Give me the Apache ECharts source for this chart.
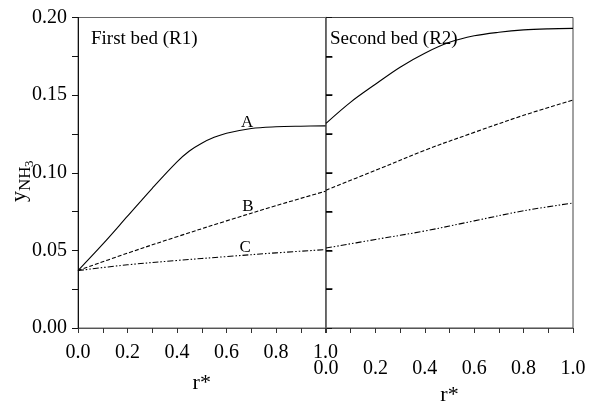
<!DOCTYPE html>
<html>
<head>
<meta charset="utf-8">
<script src="https://cdn.jsdelivr.net/npm/echarts@6/dist/echarts.min.js"></script>
<style>
  html, body { margin: 0; padding: 0; background: #fff; }
  #chart { width: 589px; height: 402px; }
</style>
</head>
<body>
<div id="chart"></div>
<script>
// Dimensionless radius r* and ammonia mole fraction profiles for the two beds
const rBed1A = [0, 0.1, 0.2, 0.3, 0.4, 0.45, 0.5, 0.55, 0.6, 0.7, 0.8, 0.9, 1.0];
const bed1A  = [0.037, 0.054, 0.072, 0.090, 0.107, 0.114, 0.119, 0.1228, 0.1255, 0.1285, 0.1296, 0.1300, 0.1302];
const rCoarse = [0, 0.2, 0.4, 0.6, 0.8, 1.0];
const bed1B  = [0.037, 0.0482, 0.0588, 0.069, 0.0788, 0.0881];
const bed1C  = [0.037, 0.0407, 0.0435, 0.046, 0.0484, 0.0505];

const rBed2A = [0, 0.1, 0.2, 0.3, 0.4, 0.5, 0.6, 0.7, 0.8, 0.9, 1.0];
const bed2A  = [0.1318, 0.1455, 0.157, 0.168, 0.177, 0.184, 0.1882, 0.1905, 0.192, 0.1927, 0.193];
const bed2B  = [0.0888, 0.1015, 0.1145, 0.126, 0.137, 0.1468];
const bed2C  = [0.0515, 0.057, 0.0625, 0.069, 0.0755, 0.0805];

const yTicks = [0, 0.05, 0.10, 0.15, 0.20];
const yTicksFine = [0.025, 0.05, 0.075, 0.10, 0.125, 0.15, 0.175];
const xTicks = [0, 0.2, 0.4, 0.6, 0.8, 1.0];
const curveNames = ['A', 'B', 'C'];
// curve label anchor points in data units (r*, y)
const labelAt = [[0.683, 0.1326], [0.687, 0.0785], [0.675, 0.052]];

const serif = 'Liberation Serif';
const pair = (xs, ys) => xs.map((x, i) => [x, ys[i]]);

function xAxisFor(grid, labelMargin, nameGap) {
  return {
    type: 'value', gridIndex: grid, position: 'bottom', min: 0, max: 1, interval: 0.2,
    name: 'r*', nameLocation: 'middle', nameGap: nameGap,
    nameTextStyle: { fontFamily: serif, fontSize: 22, color: '#000' },
    axisLine: { show: true, onZero: false, lineStyle: { color: '#555', width: 1 } },
    axisTick: { show: true, length: 5, lineStyle: { color: '#333' } },
    minorTick: { show: true, splitNumber: 2, length: 5, lineStyle: { color: '#333' } },
    splitLine: { show: false },
    axisLabel: {
      margin: labelMargin, fontFamily: serif, fontSize: 20, color: '#000',
      hideOverlap: false,
      formatter: v => (xTicks.some(t => Math.abs(t - v) < 1e-9) ? v.toFixed(1) : '')
    }
  };
}

function yAxisFor(grid, withLabels) {
  return {
    type: 'value', gridIndex: grid, position: 'left', min: 0, max: 0.2, interval: 0.05,
    axisLine: { show: true, onZero: false, lineStyle: { color: withLabels ? '#111' : '#666', width: withLabels ? 1 : 1.5 } },
    axisTick: { show: true, inside: !withLabels, length: 6, lineStyle: { color: '#111', width: 1 } },
    minorTick: { show: true, splitNumber: 2, length: 6, lineStyle: { color: '#111', width: 1 } },
    splitLine: { show: false },
    axisLabel: {
      show: withLabels, margin: 11, fontFamily: serif, fontSize: 20, color: '#000',
      formatter: v => (yTicks.some(t => Math.abs(t - v) < 1e-9) ? v.toFixed(2) : '')
    }
  };
}

function curve(grid, data, dash, labelIdx) {
  const s = {
    type: 'line', xAxisIndex: grid, yAxisIndex: grid, data: data,
    smooth: 0.35, showSymbol: false, silent: true,
    lineStyle: { color: '#000', width: 1.1, type: dash }
  };
  if (labelIdx !== undefined) {
    s.markPoint = {
      symbol: 'circle', symbolSize: 1, silent: true,
      itemStyle: { color: 'rgba(0,0,0,0)' },
      label: {
        show: true, position: 'inside', fontFamily: serif, fontSize: 17, color: '#000',
        formatter: curveNames[labelIdx]
      },
      data: [{ coord: labelAt[labelIdx] }]
    };
  }
  return s;
}

const dashB = [4, 2];
const dashC = [6, 2, 1.5, 2, 1.5, 2];

// second-bed solid curve also carries the short ticks along the divider
const bed2ASeries = curve(1, pair(rBed2A, bed2A), 'solid');
bed2ASeries.markLine = {
  silent: true, symbol: ['none', 'none'], animation: false, precision: 4,
  label: { show: false },
  lineStyle: { color: '#000', width: 1.5, type: 'solid', opacity: 1 },
  data: yTicksFine.map(v => [{ coord: [0, v] }, { coord: [0.026, v] }])
};

const chart = echarts.init(document.getElementById('chart'), null, { renderer: 'canvas' });
chart.setOption({
  backgroundColor: '#fff',
  animation: false,
  grid: [
    { left: 78, top: 17.5, width: 247.5, height: 310.5, show: true, borderColor: '#666', borderWidth: 1, containLabel: false, outerBoundsMode: 'none' },
    { left: 326, top: 17.5, width: 247, height: 310.5, show: true, borderColor: '#444', borderWidth: 1, containLabel: false, outerBoundsMode: 'none' }
  ],
  xAxis: [xAxisFor(0, 15, 44), xAxisFor(1, 31, 54)],
  yAxis: [yAxisFor(0, true), yAxisFor(1, false)],
  series: [
    curve(0, pair(rBed1A, bed1A), 'solid', 0),
    curve(0, pair(rCoarse, bed1B), dashB, 1),
    curve(0, pair(rCoarse, bed1C), dashC, 2),
    bed2ASeries,
    curve(1, pair(rCoarse, bed2B), dashB),
    curve(1, pair(rCoarse, bed2C), dashC)
  ],
  graphic: [
    { type: 'text', left: 91, top: 30, style: { text: 'First bed (R1)', font: '19px "Liberation Serif"', fill: '#000' } },
    { type: 'text', left: 330, top: 30, style: { text: 'Second bed (R2)', font: '19px "Liberation Serif"', fill: '#000' } },
    {
      type: 'group', x: 19, y: 202, rotation: Math.PI / 2,
      children: [
        { type: 'text', x: 0, y: 0, style: { text: 'y', font: '22px "Liberation Serif"', fill: '#000', verticalAlign: 'middle' } },
        { type: 'text', x: 11, y: 7, style: { text: 'NH', font: '17px "Liberation Serif"', fill: '#000', verticalAlign: 'middle' } },
        { type: 'text', x: 35, y: 11, style: { text: '3', font: '13px "Liberation Serif"', fill: '#000', verticalAlign: 'middle' } }
      ]
    }
  ]
});
</script>
</body>
</html>
